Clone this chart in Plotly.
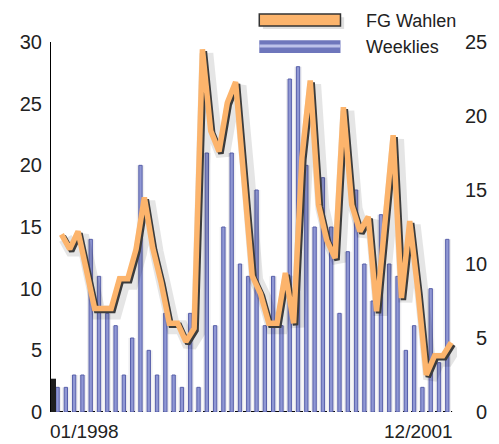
import plotly.graph_objects as go

# Eixo de meses: 01/1998 .. 12/2001 (48 meses)
months = list(range(48))
date_labels = ["01/1998", "12/2001"]

# Weeklies (barras, eixo esquerdo 0-30)
weeklies = [2, 2, 3, 3, 14, 11, 8, 7, 3, 6, 20, 5, 3, 8, 3, 2,
            8, 2, 21, 7, 15, 21, 12, 11, 18, 7, 11, 7, 27, 28, 20, 15,
            19, 15, 8, 13, 18, 12, 9, 16, 12, 11, 5, 7, 2, 10, 4, 14]

# FG Wahlen (linha, eixo direito 0-25)
fg_wahlen = [12, 11, 12.2, 9.5, 7, 7, 7, 9, 9, 11, 14.5, 11.1, 8.8, 6, 6, 4.75,
             5.65, 24.5, 19, 17.6, 20.9, 22.3, 16.2, 9.2, 8, 6, 6, 9.4, 6, 17.2, 22.4, 14,
             11.6, 10.4, 20.6, 14, 12.2, 13.2, 6.8, 12.7, 18.7, 7.7, 12.9, 8.1, 2.5, 3.8, 3.8, 4.7]

# pequena barra escura no início (visível junto ao eixo)
start_mark = [2.7]

left_ticks = [0, 5, 10, 15, 20, 25, 30]
right_ticks = [0, 5, 10, 15, 20, 25]

FONT = "Liberation Sans, Arial, sans-serif"
ORANGE = "#FCB46C"
BLUE_EDGE = "#5860AA"
BLUE_FILL = "#8F97D4"

X_RANGE = [-1.26, 47.7]
PX_X = 415 / (X_RANGE[1] - X_RANGE[0])
PX_Y = 370 / 25


def shifted(dx_px, dy_px):
    # desloca a linha alguns pixels (sombra) via eixos sobrepostos
    dx = dx_px / PX_X
    dy = dy_px / PX_Y
    return [X_RANGE[0] - dx, X_RANGE[1] - dx], [dy, 25 + dy]


fig = go.Figure()

# Sombra suave das barras
fig.add_trace(go.Bar(
    x=months, y=weeklies, width=0.9, offset=-0.92,
    marker=dict(color="rgba(90,90,110,0.10)", line_width=0),
    showlegend=False, hoverinfo="skip", xaxis="x", yaxis="y",
))

# Barras Weeklies
fig.add_trace(go.Bar(
    x=months, y=weeklies, width=0.4, offset=-0.67, name="Weeklies",
    marker=dict(color=BLUE_FILL, line=dict(color=BLUE_EDGE, width=1)),
    showlegend=False, xaxis="x", yaxis="y",
))

# Marca escura inicial
fig.add_trace(go.Bar(
    x=months[:1], y=start_mark, width=0.6, offset=-1.26,
    marker=dict(color="#1E1E1E", line_width=0),
    showlegend=False, hoverinfo="skip", xaxis="x", yaxis="y",
))

# Sombra difusa da linha
fig.add_trace(go.Scatter(
    x=months, y=fg_wahlen, mode="lines",
    line=dict(color="rgba(0,0,0,0.10)", width=14),
    showlegend=False, hoverinfo="skip", xaxis="x2", yaxis="y2",
))
# Borda escura da linha
fig.add_trace(go.Scatter(
    x=months, y=fg_wahlen, mode="lines",
    line=dict(color="#3C3C3C", width=5.5),
    showlegend=False, hoverinfo="skip", xaxis="x3", yaxis="y3",
))
# Linha FG Wahlen
fig.add_trace(go.Scatter(
    x=months, y=fg_wahlen, mode="lines", name="FG Wahlen",
    line=dict(color=ORANGE, width=5.5),
    showlegend=False, xaxis="x4", yaxis="y4",
))

xr2, yr2 = shifted(4, 4)
xr3, yr3 = shifted(2, 2)

# A página tem 8px de margem no body: figura 491x436
fig.update_layout(
    width=491, height=436,
    margin=dict(l=37, r=39, t=34, b=32),
    paper_bgcolor="white", plot_bgcolor="white",
    barmode="overlay",
    showlegend=False,
    font=dict(family=FONT, size=20, color="#222222"),
    xaxis=dict(range=X_RANGE, visible=False),
    xaxis2=dict(range=xr2, overlaying="x", visible=False),
    xaxis3=dict(range=xr3, overlaying="x", visible=False),
    xaxis4=dict(range=X_RANGE, overlaying="x", visible=False),
    yaxis=dict(
        range=[0, 30], tickvals=left_ticks, showgrid=False, zeroline=False,
        showline=True, linecolor="black", linewidth=1, ticks="",
        ticklabelstandoff=4, tickfont=dict(size=20),
    ),
    yaxis2=dict(range=yr2, overlaying="y", visible=False),
    yaxis3=dict(range=yr3, overlaying="y", visible=False),
    yaxis4=dict(
        range=[0, 25], overlaying="y", side="right", tickvals=right_ticks,
        ticktext=[("\u2007" + str(t)) if t < 10 else str(t) for t in right_ticks],
        showgrid=False, zeroline=False, showline=False, ticks="",
        ticklabelstandoff=7, tickfont=dict(size=20),
    ),
)

# Linha de base tracejada
fig.add_shape(type="line", xref="paper", yref="y", x0=0, x1=0.988, y0=0, y1=0,
              line=dict(color="black", width=2, dash="4px,4px"), layer="below")

# Legenda manual (amostras largas)
fig.add_shape(type="rect", xref="paper", yref="paper",
              x0=0.522, x1=0.722, y0=1.035, y1=1.067,
              fillcolor="rgba(0,0,0,0.12)", line_width=0)
fig.add_shape(type="rect", xref="paper", yref="paper",
              x0=0.513, x1=0.713, y0=1.043, y1=1.076,
              fillcolor=ORANGE, line=dict(color="#333333", width=1.5))
fig.add_shape(type="rect", xref="paper", yref="paper",
              x0=0.513, x1=0.713, y0=0.970, y1=1.005,
              fillcolor="#6E76BC", line_width=0)
fig.add_shape(type="line", xref="paper", yref="paper",
              x0=0.513, x1=0.713, y0=0.989, y1=0.989,
              line=dict(color="#BCC1EA", width=3))

fig.add_annotation(text="FG Wahlen", xref="paper", yref="paper", x=0.771, y=1.057,
                   xanchor="left", yanchor="middle", showarrow=False,
                   font=dict(size=18))
fig.add_annotation(text="Weeklies", xref="paper", yref="paper", x=0.771, y=0.986,
                   xanchor="left", yanchor="middle", showarrow=False,
                   font=dict(size=18))

# Rótulos de data
fig.add_annotation(text=date_labels[0], xref="paper", yref="paper", x=-0.008, y=-0.052,
                   xanchor="left", yanchor="middle", showarrow=False, font=dict(size=19))
fig.add_annotation(text=date_labels[1], xref="paper", yref="paper", x=0.996, y=-0.052,
                   xanchor="right", yanchor="middle", showarrow=False, font=dict(size=19))

fig.write_html("out.html")
